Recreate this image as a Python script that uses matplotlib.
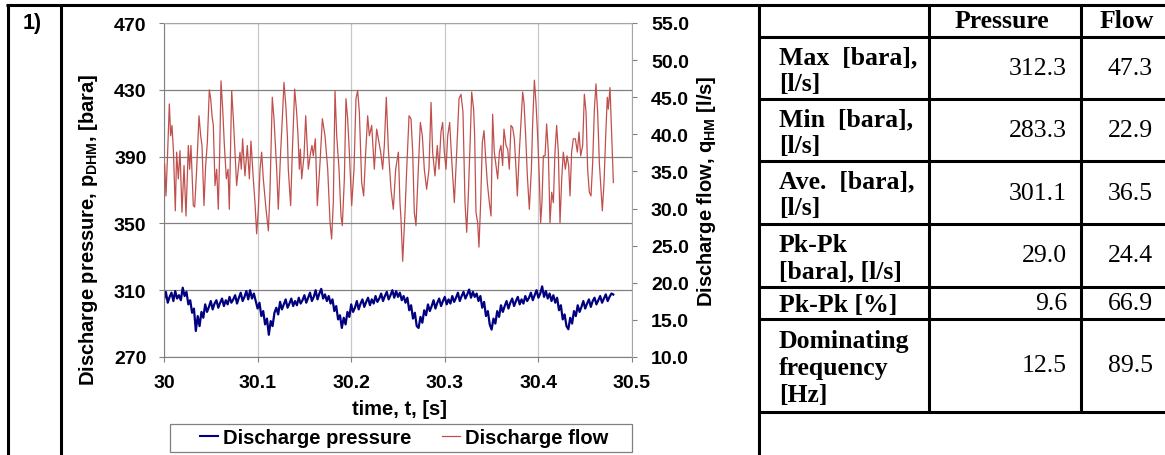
import matplotlib
matplotlib.use("Agg")
import matplotlib.pyplot as plt
import numpy as np
from matplotlib.lines import Line2D
from matplotlib.patches import Rectangle
from matplotlib.ticker import FormatStrFormatter

W, H = 1165, 456

T_START = 30.0
SAMPLE_DT = 0.002  # pressure logger interval [s]

# discharge pressure [bara], sampled every SAMPLE_DT from T_START
pressure_bara = [
    304.5, 309, 302.5, 306, 308.5, 303.5, 309.5, 305, 307, 304,
    311.5, 306.5, 309, 301.5, 304, 296.5, 299, 285.6, 294.5, 288.5,
    297, 293.5, 301.5, 297, 300, 303.5, 298.5, 302, 304, 299.5,
    302.5, 305, 300.5, 304, 301.5, 306, 302.5, 304.5, 307, 302,
    305.5, 308.5, 303.5, 306, 309.5, 304.5, 310, 305, 308, 303.5,
    299, 302.5, 294.5, 297.5, 289.5, 293, 283.3, 291.5, 288.5, 296.5,
    299.5, 295.5, 303, 298.5, 301.5, 304.5, 299.5, 302, 305, 300.5,
    303.5, 301, 305.5, 302, 304, 307, 302.5, 305.5, 308.5, 303.5,
    306, 310, 304.5, 308, 310.8, 305, 307.5, 303.5, 306.5, 302,
    304.5, 297.5, 300.5, 292.5, 295, 287.4, 293.5, 289.5, 297, 294,
    301.5, 297, 299.5, 303.5, 298.5, 302, 304.5, 300, 303, 305.5,
    301, 304.5, 302, 306.5, 303, 305, 308, 303.5, 306.5, 309,
    304.5, 307, 310, 305.5, 309.5, 306, 308.5, 304, 306.5, 302.5,
    305.5, 298, 301, 293, 296.5, 288.5, 287.4, 294, 290.5, 298,
    295, 301.5, 297.5, 300.5, 304, 299, 302.5, 305, 300.5, 303.5,
    306, 301.5, 304.5, 302, 306.5, 303, 305.5, 308.5, 303.5, 306.5,
    309, 305, 307.5, 310.4, 305.5, 309, 306, 308, 303.5, 306.5,
    299.5, 303, 294.5, 297.5, 289.5, 286.4, 293, 290, 297.5, 294,
    301, 297, 300.5, 303.5, 299, 302.5, 305, 300.5, 303.5, 306,
    301.5, 304.5, 302, 306.5, 303.5, 305.5, 308.5, 304, 307, 310,
    305.5, 308, 312.3, 306, 309.5, 305, 308, 303.5, 307, 302.5,
    305.5, 298, 301, 292.5, 295.5, 288.5, 286.6, 293.5, 290, 297.5,
    294.5, 301, 297, 300, 303.5, 299, 302, 304.5, 300, 303.5,
    305.5, 301.5, 304, 306.5, 302.5, 305, 307.5, 303.5, 306, 308,
    307.4,
]

# discharge flow: time after T_START [s] and flow [l/s]
flow_dt = [
    0.0007, 0.0021, 0.0039, 0.0057, 0.0071, 0.0085, 0.0100, 0.0121, 0.0135, 0.0153,
    0.0171, 0.0192, 0.0214, 0.0235, 0.0260, 0.0274, 0.0288, 0.0313, 0.0328, 0.0349,
    0.0374, 0.0392, 0.0406, 0.0427, 0.0445, 0.0463, 0.0484, 0.0499, 0.0513, 0.0527,
    0.0545, 0.0563, 0.0580, 0.0595, 0.0609, 0.0627, 0.0645, 0.0666, 0.0684, 0.0698,
    0.0712, 0.0723, 0.0741, 0.0755, 0.0776, 0.0794, 0.0812, 0.0826, 0.0840, 0.0855,
    0.0865, 0.0890, 0.0912, 0.0929, 0.0954, 0.0972, 0.0990, 0.1008, 0.1026, 0.1043,
    0.1061, 0.1090, 0.1115, 0.1132, 0.1147, 0.1157, 0.1175, 0.1189, 0.1204, 0.1221,
    0.1246, 0.1264, 0.1282, 0.1303, 0.1318, 0.1328, 0.1353, 0.1371, 0.1396, 0.1417,
    0.1432, 0.1446, 0.1457, 0.1471, 0.1496, 0.1514, 0.1528, 0.1542, 0.1567, 0.1581,
    0.1595, 0.1617, 0.1638, 0.1667, 0.1692, 0.1720, 0.1749, 0.1774, 0.1791, 0.1809,
    0.1827, 0.1845, 0.1870, 0.1891, 0.1905, 0.1927, 0.1944, 0.1962, 0.1980, 0.2005,
    0.2030, 0.2051, 0.2069, 0.2087, 0.2112, 0.2133, 0.2155, 0.2176, 0.2194, 0.2219,
    0.2247, 0.2272, 0.2290, 0.2315, 0.2336, 0.2354, 0.2375, 0.2397, 0.2425, 0.2450,
    0.2475, 0.2504, 0.2521, 0.2532, 0.2550, 0.2575, 0.2593, 0.2618, 0.2639, 0.2657,
    0.2674, 0.2692, 0.2717, 0.2739, 0.2760, 0.2781, 0.2806, 0.2831, 0.2853, 0.2870,
    0.2895, 0.2920, 0.2938, 0.2959, 0.2977, 0.2995, 0.3013, 0.3031, 0.3052, 0.3073,
    0.3102, 0.3127, 0.3152, 0.3173, 0.3194, 0.3216, 0.3234, 0.3251, 0.3273, 0.3287,
    0.3308, 0.3319, 0.3333, 0.3351, 0.3365, 0.3383, 0.3401, 0.3419, 0.3437, 0.3454,
    0.3476, 0.3494, 0.3511, 0.3529, 0.3547, 0.3565, 0.3583, 0.3600, 0.3618, 0.3632,
    0.3654, 0.3672, 0.3689, 0.3707, 0.3725, 0.3743, 0.3761, 0.3775, 0.3796, 0.3814,
    0.3832, 0.3846, 0.3864, 0.3882, 0.3903, 0.3925, 0.3939, 0.3957, 0.3974, 0.3992,
    0.4010, 0.4024, 0.4038, 0.4053, 0.4071, 0.4088, 0.4106, 0.4124, 0.4142, 0.4160,
    0.4177, 0.4195, 0.4213, 0.4231, 0.4249, 0.4266, 0.4288, 0.4306, 0.4323, 0.4338,
    0.4355, 0.4373, 0.4395, 0.4416, 0.4434, 0.4452, 0.4473, 0.4491, 0.4509, 0.4526,
    0.4544, 0.4562, 0.4580, 0.4598, 0.4615, 0.4633, 0.4651, 0.4669, 0.4683, 0.4701,
    0.4719, 0.4736, 0.4747, 0.4765, 0.4783, 0.4801,
]
flow_lps = [
    36.0, 31.7, 37.6, 44.1, 39.8, 41.2, 38.0, 29.7, 37.6, 34.0,
    37.8, 29.5, 35.8, 29.0, 38.5, 35.3, 38.5, 30.4, 30.2, 35.3,
    42.5, 39.8, 38.5, 30.4, 35.8, 38.9, 46.0, 44.8, 42.5, 41.2,
    33.1, 35.3, 29.9, 37.6, 47.2, 43.4, 38.5, 34.0, 35.3, 29.9,
    38.5, 45.9, 42.1, 38.5, 33.1, 35.3, 37.6, 35.3, 39.4, 36.2,
    34.4, 38.5, 34.0, 39.1, 34.0, 30.8, 26.6, 29.9, 35.3, 37.6,
    34.0, 29.9, 27.0, 32.2, 39.8, 45.0, 42.1, 38.9, 35.3, 29.9,
    37.6, 42.1, 47.0, 43.6, 39.8, 35.3, 30.4, 37.6, 46.1, 43.0,
    39.8, 35.3, 38.0, 34.0, 37.1, 42.5, 38.9, 35.3, 37.6, 38.5,
    37.1, 39.4, 30.4, 36.2, 42.1, 39.8, 35.3, 28.1, 25.9, 30.8,
    45.9, 39.8, 35.3, 29.0, 27.7, 34.0, 44.8, 42.1, 37.6, 30.4,
    35.3, 44.8, 45.9, 43.0, 33.5, 31.7, 37.6, 42.5, 39.8, 41.2,
    35.3, 40.7, 39.4, 37.6, 35.3, 38.5, 45.0, 38.0, 32.6, 29.9,
    35.3, 37.6, 30.8, 28.6, 22.9, 29.5, 35.3, 42.5, 42.1, 37.6,
    29.5, 27.7, 35.3, 41.6, 39.8, 35.3, 32.6, 35.3, 44.3, 37.6,
    34.4, 38.5, 35.3, 40.3, 41.6, 37.6, 35.3, 39.8, 41.6, 36.7,
    30.8, 37.6, 44.8, 45.4, 43.0, 30.8, 26.8, 31.7, 39.8, 45.7,
    43.4, 39.8, 29.5, 28.1, 24.8, 30.8, 38.9, 40.5, 36.7, 33.5,
    30.8, 29.0, 42.7, 37.6, 35.8, 34.0, 37.6, 38.5, 35.8, 40.7,
    38.5, 38.0, 35.3, 41.2, 40.9, 39.4, 35.3, 31.7, 37.6, 41.6,
    45.7, 44.3, 39.8, 34.4, 29.9, 35.3, 41.6, 47.3, 44.3, 39.8,
    34.0, 28.1, 30.8, 37.1, 37.1, 41.4, 37.6, 28.1, 32.2, 30.8,
    37.6, 41.2, 37.6, 28.1, 34.0, 37.6, 35.3, 37.1, 35.8, 31.7,
    37.6, 39.4, 39.4, 37.6, 40.3, 37.1, 38.5, 45.4, 43.0, 35.3,
    32.2, 31.7, 36.2, 43.4, 46.8, 43.0, 36.2, 32.6, 29.7, 33.5,
    39.8, 45.0, 43.4, 46.3, 39.8, 33.5,
]

time_ticks = [30.0, 30.1, 30.2, 30.3, 30.4, 30.5]
time_tick_labels = ["30", "30.1", "30.2", "30.3", "30.4", "30.5"]
pressure_ticks = [270, 310, 350, 390, 430, 470]
flow_ticks = [10, 15, 20, 25, 30, 35, 40, 45, 50, 55]
series_names = ["Discharge pressure", "Discharge flow"]

stat_headers = ["Pressure", "Flow"]
stat_labels = [
    "Max  [bara],\n[l/s]",
    "Min  [bara],\n[l/s]",
    "Ave.  [bara],\n[l/s]",
    "Pk-Pk\n[bara], [l/s]",
    "Pk-Pk [%]",
    "Dominating\nfrequency\n[Hz]",
]
pressure_stats = [312.3, 283.3, 301.1, 29.0, 9.6, 12.5]
flow_stats = [47.3, 22.9, 36.5, 24.4, 66.9, 89.5]

NAVY = "#000080"
BRICK = "#C0504D"
SANS = "Liberation Sans"
SERIF = "Liberation Serif"

plt.rcParams["font.family"] = SANS
plt.rcParams["font.weight"] = "bold"
plt.rcParams["mathtext.fontset"] = "custom"
plt.rcParams["mathtext.rm"] = "Liberation Sans:bold"
plt.rcParams["mathtext.default"] = "rm"


def fx(x: float) -> float:
    return x / W


def fy(y: float) -> float:
    return 1 - y / H


def hline(fig, x0, x1, y, lw=2.2):
    fig.add_artist(Line2D([fx(x0), fx(x1)], [fy(y), fy(y)], color="black", lw=lw,
                          transform=fig.transFigure, solid_capstyle="butt"))


def vline(fig, x, y0, y1, lw=2.2):
    fig.add_artist(Line2D([fx(x), fx(x)], [fy(y0), fy(y1)], color="black", lw=lw,
                          transform=fig.transFigure, solid_capstyle="butt"))


def draw_frame(fig) -> None:
    hline(fig, 6, W, 6)
    vline(fig, 7.5, 5, H)
    vline(fig, 61, 5, H)
    vline(fig, 759, 5, H)
    fig.text(fx(32), fy(23), "1)", fontsize=15.5, ha="center", va="center")


def draw_chart(fig) -> None:
    ax = fig.add_axes([fx(164), fy(358), 468 / W, 334 / H])
    p = np.asarray(pressure_bara, dtype=float)
    t_p = T_START + SAMPLE_DT * np.arange(len(p))
    ax.plot(t_p, p, color=NAVY, lw=1.6)
    ax.set_xlim(time_ticks[0], time_ticks[-1])
    ax.set_ylim(pressure_ticks[0], pressure_ticks[-1])
    ax.set_xticks(time_ticks, time_tick_labels)
    ax.set_yticks(pressure_ticks)
    ax.grid(axis="y", color="#808080", lw=0.9)
    ax.grid(axis="x", color="#c8c8c8", lw=0.9)
    ax.set_axisbelow(True)
    ax.tick_params(direction="out", length=3.6, width=0.8, color="#808080",
                   labelsize=14, pad=9)
    for side in ("left", "bottom"):
        ax.spines[side].set_color("#808080")
    ax.spines["top"].set_color("#a6a6a6")
    ax.spines["right"].set_visible(False)

    assert len(flow_dt) == len(flow_lps)
    ax2 = ax.twinx()
    ax2.plot(T_START + np.asarray(flow_dt), flow_lps, color=BRICK, lw=0.9)
    ax2.set_ylim(flow_ticks[0], flow_ticks[-1])
    ax2.set_yticks(flow_ticks)
    ax2.yaxis.set_major_formatter(FormatStrFormatter("%.1f"))
    ax2.tick_params(direction="out", length=3.6, width=0.8, color="#808080",
                    labelsize=14, pad=10)
    for side in ("left", "top", "bottom"):
        ax2.spines[side].set_visible(False)
    ax2.spines["right"].set_color("#a6a6a6")

    fig.text(fx(89), fy(230), "Discharge pressure, p$_{DHM}$, [bara]",
             rotation=90, ha="center", va="center", fontsize=14.5)
    fig.text(fx(707), fy(191), "Discharge flow, q$_{HM}$ [l/s]",
             rotation=90, ha="center", va="center", fontsize=14.5)
    fig.text(fx(399), fy(410), "time, t, [s]", ha="center", va="center", fontsize=14.5)

    handles = [Line2D([], [], color=NAVY, lw=1.5), Line2D([], [], color=BRICK, lw=0.9)]
    fig.legend(handles, series_names, loc="center", bbox_to_anchor=(fx(404), fy(439)),
               ncol=2, frameon=False, handlelength=0.9, handletextpad=0.25,
               columnspacing=1.5, prop={"size": 14.5, "weight": "bold"})
    fig.add_artist(Rectangle((fx(170), fy(453)), 462 / W, 28 / H, transform=fig.transFigure,
                             fill=False, ec="#808080", lw=0.9))


def draw_table(fig) -> None:
    row_edges = [6, 38, 100, 162, 225, 288, 320, 413]
    for y in row_edges[1:]:
        hline(fig, 759, W, y)
    vline(fig, 929, 5, row_edges[-1] + 1)
    vline(fig, 1081, 5, row_edges[-1] + 1)

    for text, xc in zip(stat_headers, [1002, 1127]):
        fig.text(fx(xc), fy(22), text, family=SERIF, weight="bold", fontsize=18.5,
                 ha="center", va="center")

    for i, label in enumerate(stat_labels):
        yc = (row_edges[i + 1] + row_edges[i + 2]) / 2
        fig.text(fx(779), fy(yc + 2), label, family=SERIF, weight="bold", fontsize=18.5,
                 ha="left", va="center", linespacing=1.2)
        fig.text(fx(1067), fy(yc), f"{pressure_stats[i]:.1f}", family=SERIF,
                 weight="normal", fontsize=18.5, ha="right", va="center")
        fig.text(fx(1153), fy(yc), f"{flow_stats[i]:.1f}", family=SERIF,
                 weight="normal", fontsize=18.5, ha="right", va="center")


def main() -> None:
    fig = plt.figure(figsize=(W / 100, H / 100), dpi=100)
    draw_frame(fig)
    draw_chart(fig)
    draw_table(fig)
    fig.savefig("out.png", dpi=100)
    plt.close(fig)


if __name__ == "__main__":
    main()
